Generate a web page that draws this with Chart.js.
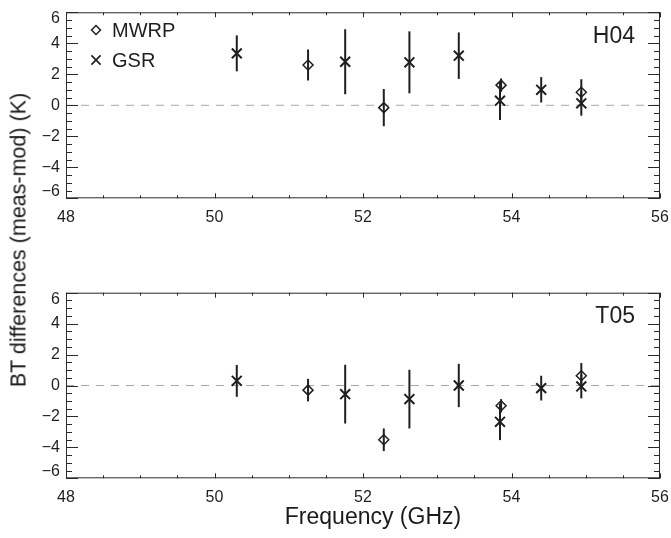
<!DOCTYPE html>
<html>
<head>
<meta charset="utf-8">
<script src="https://cdn.jsdelivr.net/npm/chart.js@4.4.0/dist/chart.umd.min.js"></script>
<style>
  body { margin: 0; background: #fff; }
  #wrap { position: relative; width: 671px; height: 538px; font-family: "Liberation Sans", Arial, sans-serif; color: #1a1a1a; }
  canvas { position: absolute; left: 0; }
  .ytitle { position: absolute; left: 19px; top: 240px; transform: translate(-50%, -50%) rotate(-90deg); white-space: nowrap; font-size: 21.5px; }
  .xtitle { position: absolute; left: 373px; top: 516px; transform: translate(-50%, -50%); white-space: nowrap; font-size: 23px; }
</style>
</head>
<body>
<div id="wrap">
  <canvas id="chart-h04" width="671" height="240" style="top:0"></canvas>
  <canvas id="chart-t05" width="671" height="270" style="top:250px"></canvas>
  <div class="ytitle">BT differences (meas-mod) (K)</div>
  <div class="xtitle">Frequency (GHz)</div>
</div>
<script>
// Channel frequencies (GHz)
const gsrFreq = [50.30, 51.76, 52.625, 53.29, 53.845, 54.40, 54.94];
const mwrpFreq = [51.26, 52.28, 53.86, 54.94];

// H04 panel: mean differences and error bar half-lengths (K)
const gsrH04 = [3.35, 2.81, 2.77, 3.2, 0.3, 1.0, 0.13];
const gsrH04Err = [1.16, 2.1, 2.0, 1.5, 1.25, 0.82, 0.8];
const mwrpH04 = [2.6, -0.15, 1.3, 0.84];
const mwrpH04Err = [1.0, 1.2, 0.43, 0.84];

// T05 panel
const gsrT05 = [0.3, -0.56, -0.88, 0.0, -2.35, -0.17, -0.06];
const gsrT05Err = [1.03, 1.9, 1.9, 1.4, 1.18, 0.8, 0.77];
const mwrpT05 = [-0.3, -3.51, -1.31, 0.63];
const mwrpT05Err = [0.73, 0.73, 0.43, 0.82];

const xTicks = [48, 50, 52, 54, 56];
const yTicks = [-6, -4, -2, 0, 2, 4, 6];

const INK = '#1f1f1f';
Chart.defaults.font.family = '"Liberation Sans", Arial, sans-serif';
Chart.defaults.color = INK;

function toPoints(xs, ys) {
    return xs.map((x, i) => ({ x: x, y: ys[i] }));
}

// error bars, frame and inward tick marks
const framePlugin = {
    id: 'frame',
    afterDatasetsDraw(chart) {
        const ctx = chart.ctx;
        const a = chart.chartArea;
        const xs = chart.scales.x;
        const ys = chart.scales.y;
        ctx.save();
        ctx.strokeStyle = INK;

        ctx.lineWidth = 2;
        chart.data.datasets.forEach(ds => {
            if (!ds.err) return;
            ds.data.forEach((p, i) => {
                const px = xs.getPixelForValue(p.x);
                ctx.beginPath();
                ctx.moveTo(px, ys.getPixelForValue(p.y - ds.err[i]));
                ctx.lineTo(px, ys.getPixelForValue(p.y + ds.err[i]));
                ctx.stroke();
            });
        });

        ctx.strokeStyle = '#2a2a2a';
        ctx.lineWidth = 1;
        ctx.strokeRect(a.left + 0.5, a.top + 0.5, a.right - a.left - 1, a.bottom - a.top - 1);

        ctx.beginPath();
        for (let v = -6; v <= 6.001; v += 0.5) {
            const py = Math.round(ys.getPixelForValue(v)) + 0.5;
            const len = (Math.abs(v % 2) < 0.01) ? 12 : 6;
            ctx.moveTo(a.left, py); ctx.lineTo(a.left + len, py);
            ctx.moveTo(a.right, py); ctx.lineTo(a.right - len, py);
        }
        for (let v = 48; v <= 56.001; v += 0.5) {
            const px = Math.round(xs.getPixelForValue(v)) + 0.5;
            const len = (Math.abs(v % 2) < 0.01) ? 5 : 3;
            ctx.moveTo(px, a.bottom); ctx.lineTo(px, a.bottom - len);
            ctx.moveTo(px, a.top); ctx.lineTo(px, a.top + len);
        }
        ctx.stroke();

        // panel label
        const o = chart.options.plugins.frame;
        ctx.fillStyle = INK;
        ctx.font = '23px "Liberation Sans", Arial, sans-serif';
        ctx.textAlign = 'right';
        ctx.textBaseline = 'middle';
        ctx.fillText(o.label, 635, a.top + o.labelDy);

        if (o.legend) {
            ctx.font = '20px "Liberation Sans", Arial, sans-serif';
            ctx.textAlign = 'left';
            const rows = [
                { style: 'rectRot', r: 4.5, w: 1.5, text: 'MWRP', y: 30 },
                { style: 'crossRot', r: 6.5, w: 1.6, text: 'GSR', y: 60 },
            ];
            rows.forEach(row => {
                ctx.strokeStyle = INK;
                ctx.fillStyle = 'rgba(0,0,0,0)';
                ctx.lineWidth = row.w;
                Chart.helpers.drawPoint(ctx, { pointStyle: row.style, radius: row.r, borderWidth: row.w, rotation: 0 }, 96, row.y);
                ctx.fillStyle = INK;
                ctx.fillText(row.text, 112, row.y + 1);
            });
        }
        ctx.restore();
    },
};

// end labels sit a little inside the frame, as in the original
function yLabel(v) {
    const s = v < 0 ? '\u2212' + Math.abs(v) : String(v);
    if (v === 6) return ['', s];
    if (v === -6) return [s, ''];
    return s;
}

function makeChart(id, gsr, gsrErr, mwrp, mwrpErr, label, padTop, xHeight, legend, labelDy) {
    return new Chart(document.getElementById(id), {
        type: 'scatter',
        data: {
            datasets: [
                {
                    label: 'MWRP',
                    data: toPoints(mwrpFreq, mwrp),
                    err: mwrpErr,
                    pointStyle: 'rectRot',
                    pointRadius: 5,
                    borderColor: INK,
                    backgroundColor: 'rgba(0,0,0,0)',
                    borderWidth: 1.5,
                    order: 0,
                },
                {
                    label: 'GSR',
                    data: toPoints(gsrFreq, gsr),
                    err: gsrErr,
                    pointStyle: 'crossRot',
                    pointRadius: 7,
                    borderColor: INK,
                    borderWidth: 2,
                    order: 0,
                },
                {
                    label: 'zero',
                    type: 'line',
                    data: [{ x: 48, y: 0 }, { x: 56, y: 0 }],
                    borderColor: '#a8a8a8',
                    borderWidth: 1,
                    borderDash: [8, 7],
                    pointRadius: 0,
                    order: 2,
                },
            ],
        },
        options: {
            responsive: false,
            animation: false,
            layout: { padding: { top: padTop, right: 11, left: 0, bottom: 0 } },
            plugins: {
                legend: { display: false },
                tooltip: { enabled: false },
                frame: { label: label, legend: legend, labelDy: labelDy },
            },
            scales: {
                x: {
                    type: 'linear',
                    min: 48,
                    max: 56,
                    afterBuildTicks: s => { s.ticks = xTicks.map(v => ({ value: v })); },
                    ticks: { padding: 10, font: { size: 16 }, color: INK },
                    grid: { display: false, drawTicks: false },
                    border: { display: false },
                    afterFit: s => { s.height = xHeight; s.paddingLeft = 0; s.paddingRight = 0; },
                },
                y: {
                    min: -6,
                    max: 6,
                    afterBuildTicks: s => { s.ticks = yTicks.map(v => ({ value: v })); },
                    ticks: {
                        padding: 6,
                        color: INK,
                        font: c => ({ size: 16, lineHeight: (c.tick && Math.abs(c.tick.value) === 6) ? 0.8 : 1.2 }),
                        callback: v => yLabel(v),
                    },
                    grid: { display: false, drawTicks: false },
                    border: { display: false },
                    afterFit: s => { s.width = 66; s.paddingTop = 0; s.paddingBottom = 0; },
                },
            },
        },
        plugins: [framePlugin],
    });
}

makeChart('chart-h04', gsrH04, gsrH04Err, mwrpH04, mwrpH04Err, 'H04', 12.3, 41.7, true, 24.5);
makeChart('chart-t05', gsrT05, gsrT05Err, mwrpT05, mwrpT05Err, 'T05', 42.7, 41.7, false, 23.5);
</script>
</body>
</html>
